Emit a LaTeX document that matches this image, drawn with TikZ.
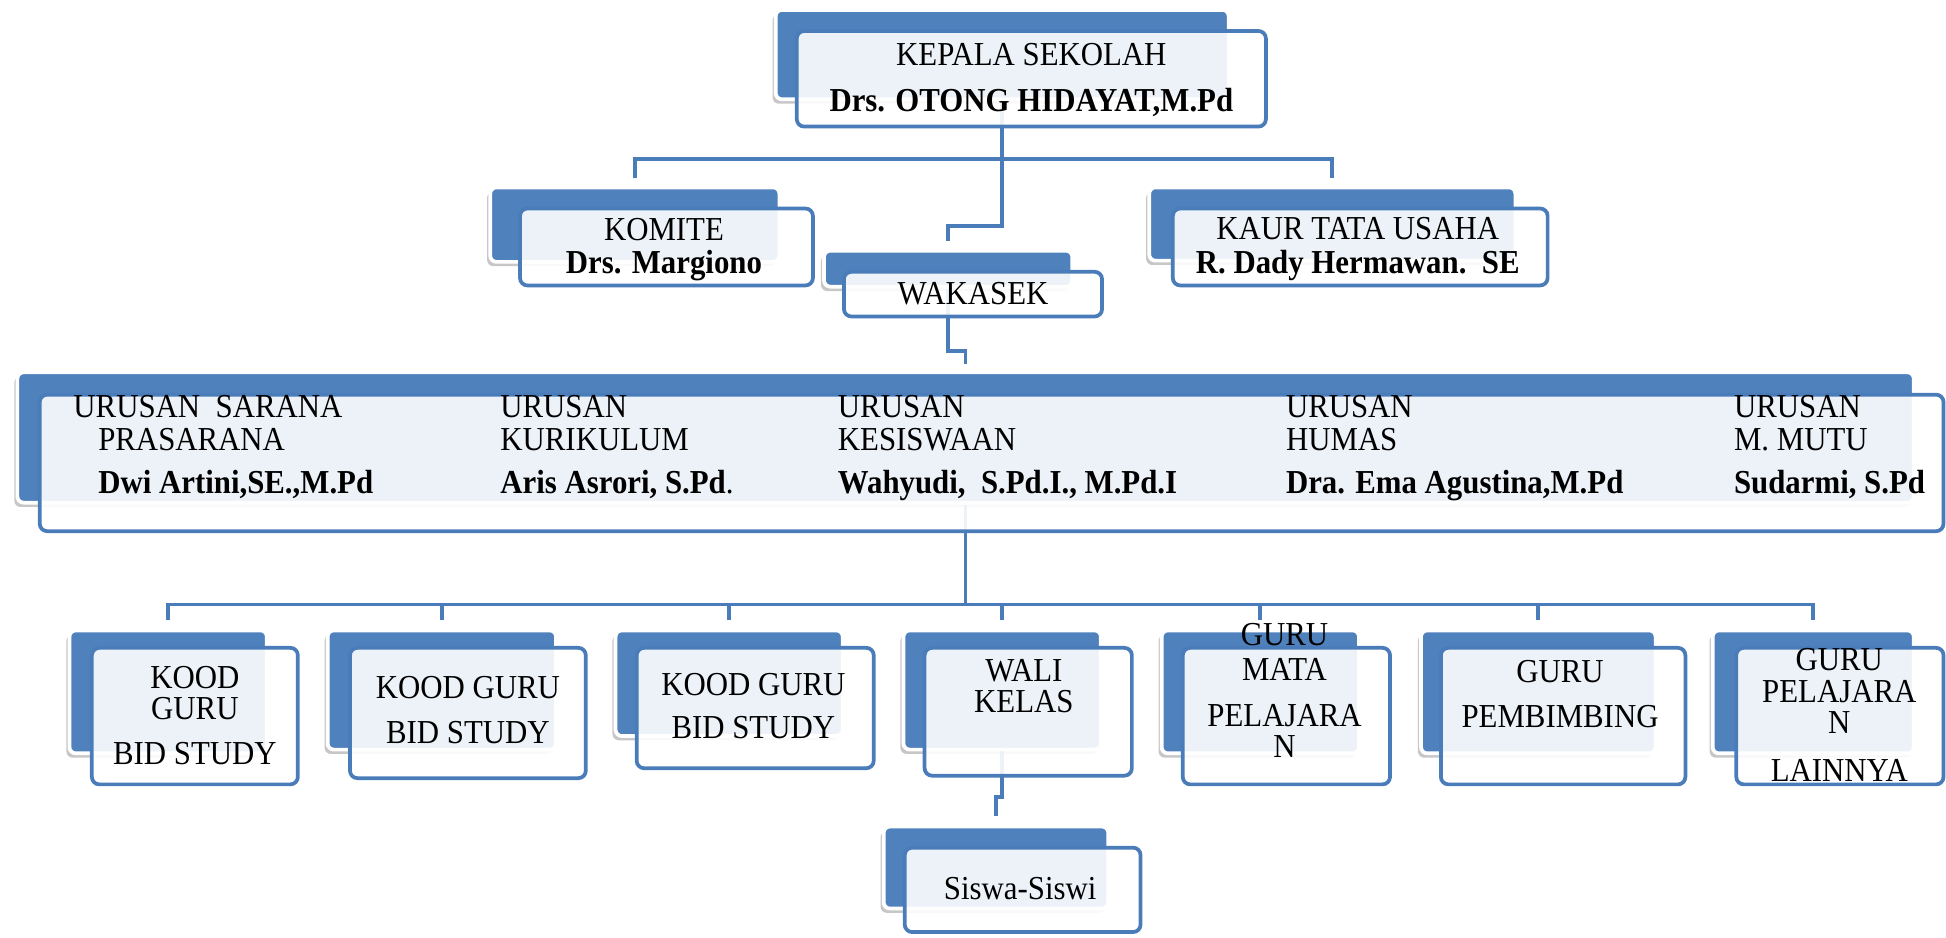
\documentclass[tikz,border=0pt]{standalone}
\usepackage{fontspec}
\setmainfont{Liberation Serif}[FakeStretch=0.92]
\usetikzlibrary{shadows}
\definecolor{sblue}{HTML}{4F81BD}
\definecolor{lblue}{HTML}{4A7CB9}
\tikzset{
  backbox/.style={draw=white, line width=3pt, fill=sblue, rounded corners=5pt, inner sep=0pt,
    drop shadow={shadow xshift=-2.5pt, shadow yshift=-3.5pt, opacity=0.22, fill=black}},
  frontbox/.style={draw=lblue, line width=3pt, fill=white, fill opacity=0.9, rounded corners=6pt, inner sep=0pt},
  conn/.style={draw=lblue, line width=3pt},
  txt/.style={anchor=base, inner sep=0pt, font=\fontsize{27}{30}\selectfont, text=black},
  btxt/.style={txt, font=\fontsize{27}{30}\selectfont\bfseries},
  ltxt/.style={txt, anchor=base west},
  lbtxt/.style={btxt, anchor=base west},
}
\newcommand\mkbox[6]{\node[#2, minimum width={(#5-#3)*1pt}, minimum height={(#6-#4)*1pt}] (#1) at ({(#3+#5)/2},{(#4+#6)/2}) {};}
\begin{document}
\begin{tikzpicture}[x=1pt,y=-1pt]
\useasboundingbox[fill=white] (0,0) rectangle (1568,755);
% back boxes
\mkbox{kepB}{backbox}{625}{8}{990}{80}
\mkbox{komB}{backbox}{395}{151}{628}{211}
\mkbox{kaurB}{backbox}{926}{151}{1221}{210}
\mkbox{wakB}{backbox}{664}{202}{864}{231}
\mkbox{urB}{backbox}{14}{300}{1542}{405}
\mkbox{b1B}{backbox}{56}{508}{215}{607}
\mkbox{b2B}{backbox}{264}{508}{448}{604}
\mkbox{b3B}{backbox}{496}{508}{679}{593}
\mkbox{b4B}{backbox}{728}{508}{887}{604}
\mkbox{b5B}{backbox}{936}{508}{1095}{607}
\mkbox{b6B}{backbox}{1145}{508}{1334}{607}
\mkbox{b7B}{backbox}{1380}{508}{1542}{607}
\mkbox{sisB}{backbox}{712}{666}{893}{732}
% connector levels
\coordinate (busT) at (0,128);
\coordinate (jogA) at (0,182);
\coordinate (jogB) at (0,283);
\coordinate (busB) at (0,487);
\coordinate (jogC) at (0,642);
% connectors
\draw[conn] (kepB.south) -- (kepB.south |- busT);
\draw[conn, shorten <=6pt, shorten >=6pt] (komB.north) |- (kepB.south |- busT) -| (kaurB.north);
\draw[conn, shorten >=6pt] (kepB.south |- busT) -- (kepB.south |- jogA) -| (wakB.north);
\draw[conn, shorten >=5pt] (wakB.south) -- (wakB.south |- jogB) -| (urB.north);
\draw[conn] (urB.south) -- (urB.south |- busB);
\draw[conn, shorten <=7pt, shorten >=7pt] (b1B.north) |- (b7B.north |- busB) -- (b7B.north);
\foreach \b in {b2B,b3B,b4B,b5B,b6B}{\draw[conn, shorten <=7pt] (\b.north) -- (\b.north |- busB);}
\draw[conn, shorten >=7pt] (b4B.south) -- (b4B.south |- jogC) -| (sisB.north);
% front boxes
\mkbox{kepF}{frontbox}{642}{25}{1020}{102}
\mkbox{komF}{frontbox}{419}{168}{655}{230}
\mkbox{kaurF}{frontbox}{945}{168}{1247}{230}
\mkbox{wakF}{frontbox}{680}{219}{888}{255}
\mkbox{urF}{frontbox}{32}{318}{1566}{428}
\mkbox{b1F}{frontbox}{74}{522}{240}{632}
\mkbox{b2F}{frontbox}{282}{522}{472}{627}
\mkbox{b3F}{frontbox}{513}{522}{704}{619}
\mkbox{b4F}{frontbox}{745}{522}{912}{625}
\mkbox{b5F}{frontbox}{953}{522}{1120}{632}
\mkbox{b6F}{frontbox}{1161}{522}{1358}{632}
\mkbox{b7F}{frontbox}{1399}{522}{1566}{632}
\mkbox{sisF}{frontbox}{729}{683}{919}{751}
% texts
\node[txt] (kep1) at (831,53) {KEPALA SEKOLAH};
\node[btxt] (kep2) at (831,90) {Drs. OTONG HIDAYAT,M.Pd};
\node[txt] (kom1) at (535,194) {KOMITE};
\node[btxt] (kom2) at (535,220) {Drs. Margiono};
\node[txt] (kau1) at (1094,193) {KAUR TATA USAHA};
\node[btxt] (kau2) at (1094,220) {R. Dady Hermawan.\ \ SE};
\node[txt] (wak1) at (784,245) {WAKASEK};
\node[ltxt] (u11) at (59,336) {URUSAN\ \ SARANA};
\node[ltxt] (u12) at (79,363) {PRASARANA};
\node[lbtxt] (u13) at (79,398) {Dwi Artini,SE.,M.Pd};
\node[ltxt] (u21) at (403,336) {URUSAN};
\node[ltxt] (u22) at (403,363) {KURIKULUM};
\node[lbtxt] (u23) at (403,398) {Aris Asrori, S.Pd\mdseries.};
\node[ltxt] (u31) at (675,336) {URUSAN};
\node[ltxt] (u32) at (675,363) {KESISWAAN};
\node[lbtxt] (u33) at (675,398) {Wahyudi,\ \ S.Pd.I., M.Pd.I};
\node[ltxt] (u41) at (1036,336) {URUSAN};
\node[ltxt] (u42) at (1036,363) {HUMAS};
\node[lbtxt] (u43) at (1036,398) {Dra. Ema Agustina,M.Pd};
\node[ltxt] (u51) at (1397,336) {URUSAN};
\node[ltxt] (u52) at (1397,363) {M. MUTU};
\node[lbtxt] (u53) at (1397,398) {Sudarmi, S.Pd};
\node[txt] (k11) at (157,555) {KOOD};
\node[txt] (k12) at (157,580) {GURU};
\node[txt] (k13) at (157,616) {BID STUDY};
\node[txt] (k21) at (377,563) {KOOD GURU};
\node[txt] (k22) at (377,599) {BID STUDY};
\node[txt] (k31) at (607,560) {KOOD GURU};
\node[txt] (k32) at (607,595) {BID STUDY};
\node[txt] (w1) at (825,549) {WALI};
\node[txt] (w2) at (825,574) {KELAS};
\node[txt] (m1) at (1035,520) {GURU};
\node[txt] (m2) at (1035,548) {MATA};
\node[txt] (m3) at (1035,585) {PELAJARA};
\node[txt] (m4) at (1035,610) {N};
\node[txt] (p1) at (1257,550) {GURU};
\node[txt] (p2) at (1257,586) {PEMBIMBING};
\node[txt] (l1) at (1482,540) {GURU};
\node[txt] (l2) at (1482,566) {PELAJARA};
\node[txt] (l3) at (1482,591) {N};
\node[txt] (l4) at (1482,630) {LAINNYA};
\node[txt] (s1) at (822,725) {Siswa-Siswi};
\end{tikzpicture}
\end{document}
